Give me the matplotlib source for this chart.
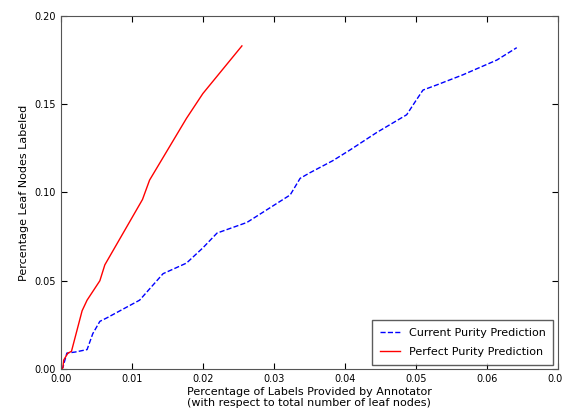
import matplotlib
matplotlib.use('Agg')
from matplotlib import pyplot as plt

# values
current_x = [0.0, 0.0003, 0.00085, 0.002, 0.0037, 0.0045, 0.0055, 0.0065, 0.0111, 0.0144,
             0.0177, 0.020, 0.022, 0.0262, 0.0323, 0.0337, 0.035, 0.0383, 0.0407, 0.0445,
             0.0487, 0.050, 0.051, 0.053, 0.0566, 0.0614, 0.0642]
current_y = [0.0, 0.001, 0.009, 0.0096, 0.011, 0.020, 0.027, 0.029, 0.039, 0.054,
             0.060, 0.0686, 0.077, 0.083, 0.0986, 0.108, 0.111, 0.118, 0.124, 0.134,
             0.144, 0.152, 0.158, 0.161, 0.1666, 0.175, 0.182]

perfect_x = [0.0, 0.0003, 0.0004, 0.001, 0.0015, 0.003, 0.0037, 0.0055, 0.0062, 0.0115,
             0.0125, 0.0177, 0.020, 0.0255]
perfect_y = [0.0, 0.0006, 0.005, 0.009, 0.010, 0.033, 0.039, 0.050, 0.059, 0.096,
             0.107, 0.142, 0.156, 0.183]

x_ticks = [0.00, 0.01, 0.02, 0.03, 0.04, 0.05, 0.06, 0.07]
y_ticks = [0.00, 0.05, 0.10, 0.15, 0.20]

fig = plt.figure(figsize=(5.63, 4.13), dpi=100)
ax = fig.add_axes([0.108, 0.1065, 0.883, 0.855])

ax.plot(current_x, current_y, 'b--', lw=1, label='Current Purity Prediction')
ax.plot(perfect_x, perfect_y, 'r-', lw=1, label='Perfect Purity Prediction')

ax.set_xlim(0, 0.07)
ax.set_ylim(0, 0.20)
ax.set_xticks(x_ticks)
ax.set_yticks(y_ticks)
ax.set_xticklabels(['%.2f' % t for t in x_ticks])
ax.set_yticklabels(['%.2f' % t for t in y_ticks])
ax.tick_params(direction='in', top=True, right=True, labelsize=7, length=4)
for s in ax.spines.values():
    s.set_color('#555555')

ax.set_xlabel('Percentage of Labels Provided by Annotator\n(with respect to total number of leaf nodes)',
              fontsize=8, labelpad=2)
ax.set_ylabel('Percentage Leaf Nodes Labeled', fontsize=8)

leg = ax.legend(loc='lower right', fontsize=8, fancybox=False, borderaxespad=0.4,
                borderpad=0.7, labelspacing=0.8, handlelength=1.8)
leg.get_frame().set_edgecolor('#333333')

fig.savefig('out.png', dpi=100)
